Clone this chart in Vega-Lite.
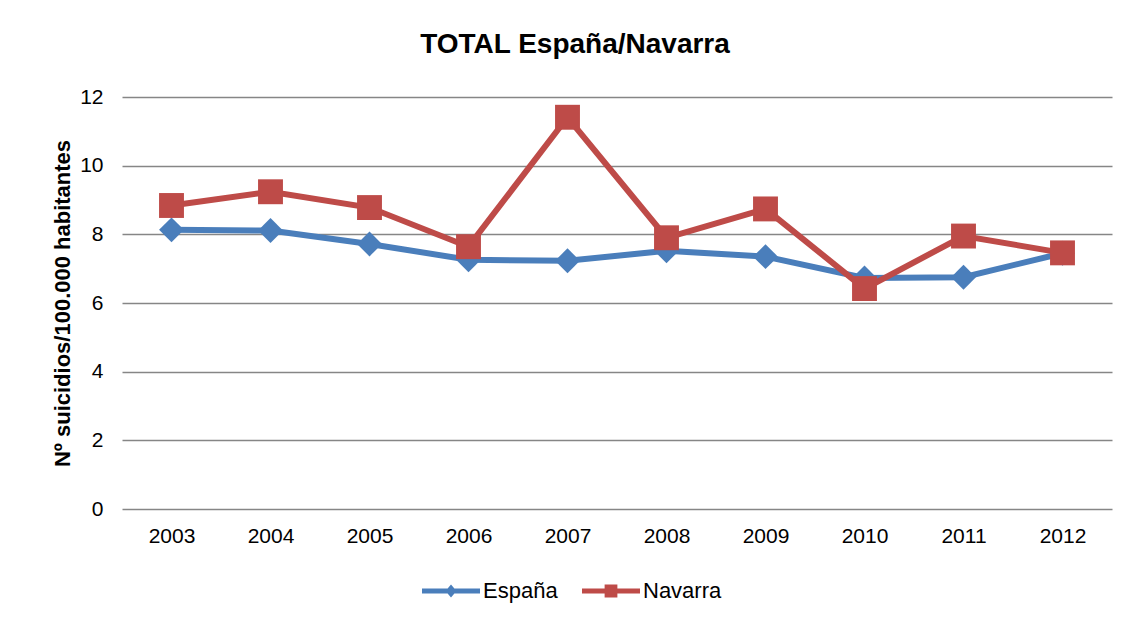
{
  "$schema": "https://vega.github.io/schema/vega-lite/v6.json",
  "width": 990,
  "height": 412,
  "autosize": {"type": "none"},
  "padding": {"left": 122, "top": 97, "right": 20, "bottom": 110},
  "background": "white",
  "config": {
    "font": "Liberation Sans",
    "view": {"stroke": null},
    "axis": {"labelFont": "Liberation Sans", "titleFont": "Liberation Sans"}
  },
  "title": {
    "text": "TOTAL España/Navarra",
    "fontSize": 28,
    "fontWeight": "bold",
    "font": "Liberation Sans",
    "color": "black",
    "anchor": "middle",
    "offset": 27,
    "dx": -42
  },
  "data": {
    "values": [
      {"year": "2003", "serie": "España", "value": 8.13},
      {"year": "2004", "serie": "España", "value": 8.11},
      {"year": "2005", "serie": "España", "value": 7.72},
      {"year": "2006", "serie": "España", "value": 7.26},
      {"year": "2007", "serie": "España", "value": 7.23},
      {"year": "2008", "serie": "España", "value": 7.52},
      {"year": "2009", "serie": "España", "value": 7.35},
      {"year": "2010", "serie": "España", "value": 6.73},
      {"year": "2011", "serie": "España", "value": 6.75},
      {"year": "2012", "serie": "España", "value": 7.45},
      {"year": "2003", "serie": "Navarra", "value": 8.84},
      {"year": "2004", "serie": "Navarra", "value": 9.24},
      {"year": "2005", "serie": "Navarra", "value": 8.78},
      {"year": "2006", "serie": "Navarra", "value": 7.64},
      {"year": "2007", "serie": "Navarra", "value": 11.41},
      {"year": "2008", "serie": "Navarra", "value": 7.9},
      {"year": "2009", "serie": "Navarra", "value": 8.74},
      {"year": "2010", "serie": "Navarra", "value": 6.42},
      {"year": "2011", "serie": "Navarra", "value": 7.95},
      {"year": "2012", "serie": "Navarra", "value": 7.46}
    ]
  },
  "encoding": {
    "x": {
      "field": "year",
      "type": "ordinal",
      "scale": {"type": "point", "padding": 0.5},
      "axis": {
        "title": null,
        "labelAngle": 0,
        "labelFontSize": 21,
        "labelColor": "black",
        "labelPadding": 16,
        "ticks": false,
        "domain": false,
        "grid": false
      }
    },
    "y": {
      "field": "value",
      "type": "quantitative",
      "scale": {"domain": [0, 12], "nice": false, "zero": true},
      "axis": {
        "title": "Nº suicidios/100.000 habitantes",
        "titleFontSize": 22,
        "titleFontWeight": "bold",
        "titleColor": "black",
        "titlePadding": 5,
        "values": [0, 2, 4, 6, 8, 10, 12],
        "labelFontSize": 21,
        "labelColor": "black",
        "labelPadding": 19,
        "ticks": false,
        "domain": false,
        "grid": true,
        "gridColor": "#868686",
        "gridWidth": 1.5
      }
    },
    "color": {
      "field": "serie",
      "type": "nominal",
      "scale": {"domain": ["España", "Navarra"], "range": ["#4A7EBB", "#BE4B48"]},
      "legend": {
        "title": null,
        "orient": "none",
        "direction": "horizontal",
        "legendX": 300,
        "legendY": 465,
        "labelFontSize": 22,
        "labelColor": "black",
        "symbolSize": 3364,
        "symbolStrokeWidth": 0,
        "symbolOpacity": 1,
        "columnPadding": 24,
        "labelOffset": 3,
        "encode": {
          "symbols": {
            "update": {
              "shape": {"signal": "datum.value === 'España' ? 'M-1,-0.09L1,-0.09L1,0.09L-1,0.09Z M-0.19,0L0,-0.22L0.19,0L0,0.22Z' : 'M-1,-0.09L1,-0.09L1,0.09L-1,0.09Z M-0.22,-0.22L0.22,-0.22L0.22,0.22L-0.22,0.22Z'"},
              "fill": {"signal": "datum.value === 'España' ? '#4A7EBB' : '#BE4B48'"},
              "strokeWidth": {"value": 0}
            }
          }
        }
      }
    }
  },
  "layer": [
    {
      "mark": {"type": "line", "strokeWidth": 6},
      "encoding": {"detail": {"field": "serie"}}
    },
    {
      "transform": [{"filter": "datum.serie === 'España'"}],
      "mark": {"type": "point", "shape": "diamond", "filled": true, "size": 620, "opacity": 1}
    },
    {
      "transform": [{"filter": "datum.serie === 'Navarra'"}],
      "mark": {"type": "point", "shape": "square", "filled": true, "size": 620, "opacity": 1}
    }
  ]
}
